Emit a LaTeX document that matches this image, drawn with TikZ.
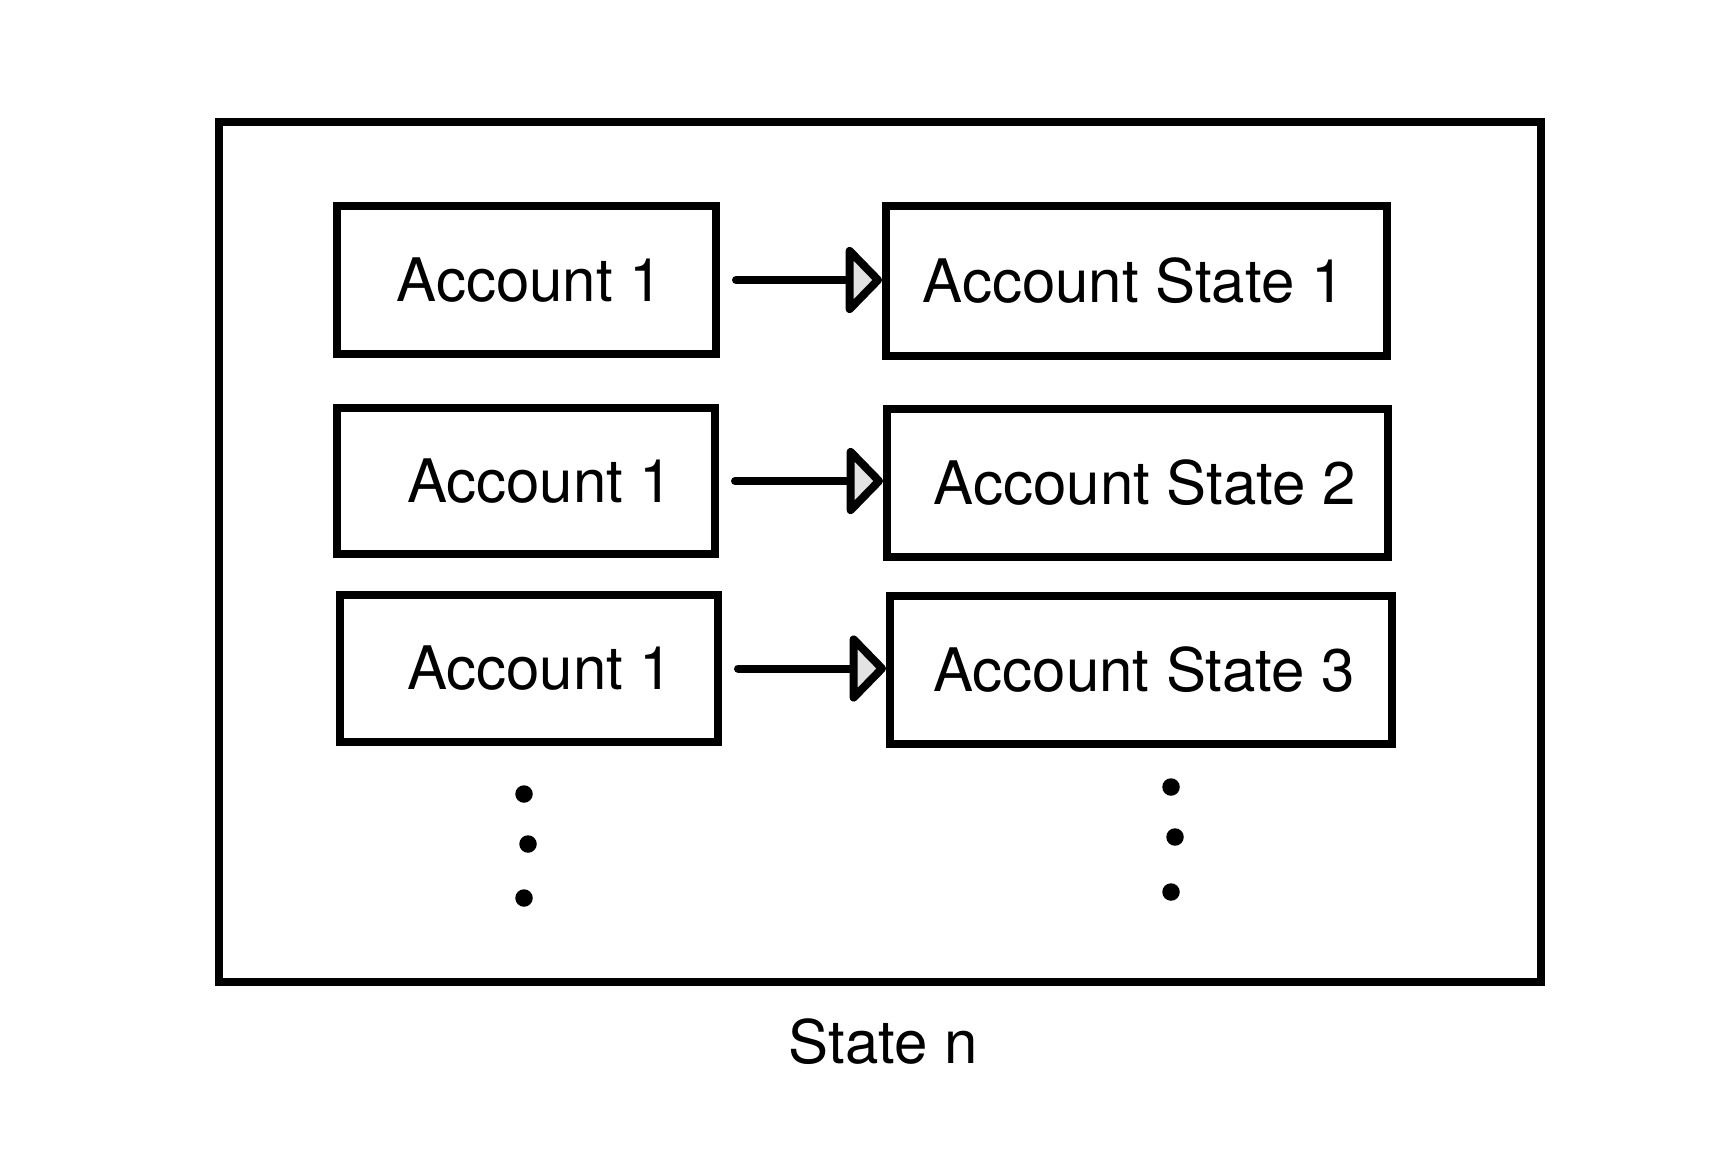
\documentclass[tikz,border=0pt]{standalone}
\usepackage{fontspec}
\setmainfont{TeX Gyre Heros}
\usetikzlibrary{arrows.meta}
\definecolor{tipgray}{HTML}{E3E3E3}
\begin{document}
\begin{tikzpicture}[x=0.5pt,y=-0.5pt,
  every node/.style={font=\fontsize{30pt}{36pt}\selectfont},
  box/.style 2 args={draw, line width=4pt, rectangle, inner sep=0pt, minimum width=#1*0.5pt, minimum height=#2*0.5pt},
  dot/.style={circle, fill=black, inner sep=0pt, minimum size=8.75pt},
  conn/.style={line width=4pt, line cap=round, shorten <=8pt, -{Triangle[fill=tipgray, round, length=19pt, width=38pt]}}
]
\useasboundingbox (0,0) rectangle (1717,1155);
\node[box={1322}{860}] (outer) at (880,552) {};
\node[box={379}{148}] (a1) at (526.5,280) {\hspace*{3.3pt}Account 1};
\node[box={501}{150}] (s1) at (1136.5,281) {Account State 1\hspace*{3pt}};
\node[box={378}{146}] (a2) at (526,481) {\hspace*{14.3pt}Account 1};
\node[box={501}{148}] (s2) at (1137.5,483) {\hspace*{7.2pt}Account State 2};
\node[box={378}{147}] (a3) at (529,668.5) {\hspace*{11.3pt}Account 1};
\node[box={502}{148}] (s3) at (1141,670) {\hspace*{3.2pt}Account State 3};
\draw[conn] (a1.east) -- (a1.east -| s1.west);
\draw[conn] (a2.east) -- (a2.east -| s2.west);
\draw[conn] (a3.east) -- (a3.east -| s3.west);
\node[dot] (l1) at (524,794) {};
\node[dot] (l2) at (528,844) {};
\node[dot] (l3) at (524,898) {};
\node[dot] (r1) at (1171,787) {};
\node[dot] (r2) at (1175,837) {};
\node[dot] (r3) at (1171,892) {};
\node[anchor=base] (caption) at (883,1063) {State n};
\end{tikzpicture}
\end{document}
